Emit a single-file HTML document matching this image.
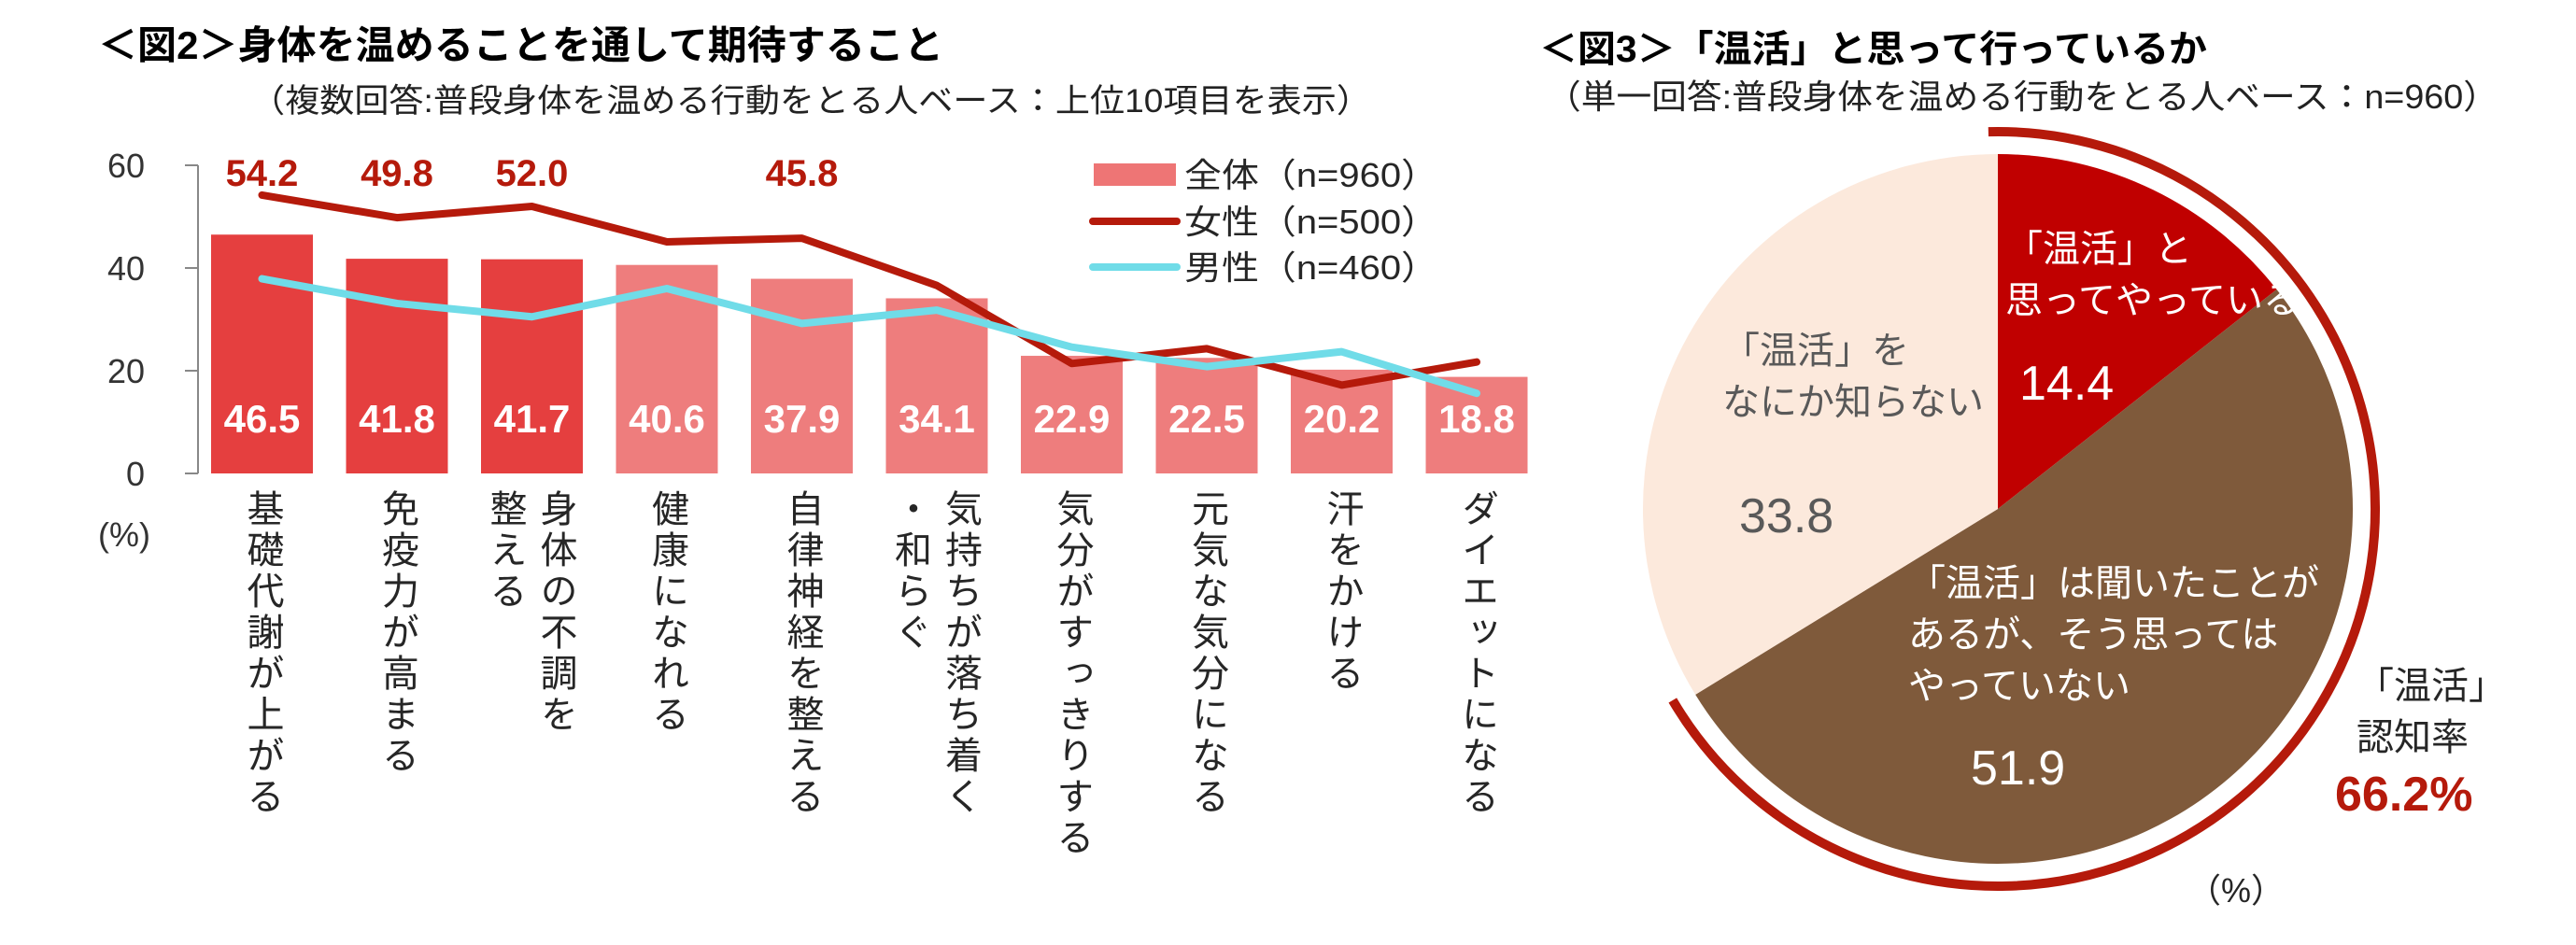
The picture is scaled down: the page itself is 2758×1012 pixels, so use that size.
<!DOCTYPE html>
<html><head><meta charset="utf-8">
<style>
html,body{margin:0;padding:0;background:#fff;}
#root{position:relative;width:2758px;height:1012px;overflow:hidden;font-family:"Liberation Sans","Noto Sans CJK JP",sans-serif;}
svg{position:absolute;left:0;top:0;}
.vlab{position:absolute;writing-mode:vertical-rl;font-size:40px;line-height:54px;letter-spacing:4px;color:#262626;font-family:"Liberation Sans","Noto Sans CJK JP",sans-serif;white-space:pre;}
</style></head>
<body>
<div id="root">
<svg id="svg" width="2758" height="1012" viewBox="0 0 2758 1012">
  <text x="105" y="63" font-size="42" font-weight="bold" fill="#000" textLength="905" lengthAdjust="spacingAndGlyphs">＜図2＞身体を温めることを通して期待すること</text>
  <text x="268" y="120" font-size="35" fill="#222" textLength="1200" lengthAdjust="spacingAndGlyphs">（複数回答:普段身体を温める行動をとる人ベース：上位10項目を表示）</text>
  <text x="1648" y="66" font-size="40" font-weight="bold" fill="#000" textLength="715" lengthAdjust="spacingAndGlyphs">＜図3＞「温活」と思って行っているか</text>
  <text x="1655" y="116" font-size="36" fill="#222" textLength="1020" lengthAdjust="spacingAndGlyphs">（単一回答:普段身体を温める行動をとる人ベース：n=960）</text>
  <g id="bars"></g><g id="lines"></g><g id="axis"></g><g id="pie"></g>
</svg>
</div>
<script>
const categories=["基礎代謝が上がる","免疫力が高まる","身体の不調を\n整える","健康になれる","自律神経を整える","気持ちが落ち着く\n・和らぐ","気分がすっきりする","元気な気分になる","汗をかける","ダイエットになる"];
const totalValues=[46.5,41.8,41.7,40.6,37.9,34.1,22.9,22.5,20.2,18.8];
const femaleValues=[54.2,49.8,52.0,45.1,45.8,36.6,21.4,24.3,17.2,21.7];
const maleValues=[37.9,33.1,30.5,36.0,29.2,31.8,24.6,20.8,23.7,15.6];
const femaleLabelShown=[true,true,true,false,true,false,false,false,false,false];
const yTicks=[0,20,40,60];
const pieLabels=["「温活」と\n思ってやっている","「温活」は聞いたことが\nあるが、そう思っては\nやっていない","「温活」を\nなにか知らない"];
const pieValues=[14.4,51.9,33.8];

const NS="http://www.w3.org/2000/svg";
function mk(tag,attrs,parent){const e=document.createElementNS(NS,tag);for(const k in attrs)e.setAttribute(k,attrs[k]);parent.appendChild(e);return e;}
const y0=507, yTop=177, x0=212, pitch=144.5, bw=109, bx0=226;
function yS(v){return y0-(v/60)*(y0-yTop);}
function xC(i){return bx0+bw/2+i*pitch;}

const gB=document.getElementById('bars'),gL=document.getElementById('lines'),gA=document.getElementById('axis'),gP=document.getElementById('pie');
const root=document.getElementById('root');

totalValues.forEach((v,i)=>{
  const r=mk('rect',{x:xC(i)-bw/2,y:yS(v),width:bw,height:y0-yS(v),fill:i<3?'#E53F3F':'#EE7D7D'},gB);
  
  
  const t=mk('text',{x:xC(i),y:463,'font-size':42,'font-weight':'bold',fill:'#fff','text-anchor':'middle'},gB);
  t.textContent=v.toFixed(1);
  
  
});
function line(vals,color,name){
  const p=mk('polyline',{points:vals.map((v,i)=>xC(i)+','+yS(v)).join(' '),fill:'none',stroke:color,'stroke-width':8,'stroke-linejoin':'round','stroke-linecap':'round'},gL);
  
  
}
line(femaleValues,'#B51A0B','female-line');
line(maleValues,'#70DCE8','male-line');
femaleValues.forEach((v,i)=>{
  if(!femaleLabelShown[i])return;
  const t=mk('text',{x:xC(i),y:199,'font-size':40,'font-weight':'bold',fill:'#B51A0B','text-anchor':'middle'},gL);
  t.textContent=v.toFixed(1);
  
  
});
// axis
const ax=mk('line',{x1:x0,y1:yTop,x2:x0,y2:y0,stroke:'#888','stroke-width':2},gA);


yTicks.forEach(v=>{
  const tk=mk('line',{x1:x0-14,y1:yS(v),x2:x0,y2:yS(v),stroke:'#888','stroke-width':2},gA);
  
  
  const t=mk('text',{x:155,y:yS(v)+13,'font-size':36,fill:'#333','text-anchor':'end'},gA);
  t.textContent=v;
  
  
});
const pc=mk('text',{x:105,y:585,'font-size':36,fill:'#333'},gA);pc.textContent='(%)';


// legend
const lr=mk('rect',{x:1171,y:175,width:88,height:24,fill:'#EE7575'},gA);

const l1=mk('line',{x1:1170,y1:237,x2:1260,y2:237,stroke:'#B51A0B','stroke-width':8,'stroke-linecap':'round'},gA);

const l2=mk('line',{x1:1170,y1:286,x2:1260,y2:286,stroke:'#70DCE8','stroke-width':8,'stroke-linecap':'round'},gA);

[['全体（n=960）',200],['女性（n=500）',250],['男性（n=460）',299]].forEach((d,i)=>{
  const t=mk('text',{x:1268,y:d[1],'font-size':36,fill:'#262626',textLength:272,lengthAdjust:'spacingAndGlyphs'},gA);
  t.textContent=d[0];
  
  
});
// vertical category labels
categories.forEach((c,i)=>{
  const d=document.createElement('div');
  d.className='vlab';
  d.textContent=c;
  
  
  root.appendChild(d);
  const cols=c.split('\n').length;
  const w=cols*54;
  d.style.left=(xC(i)-w/2+(cols>1?-2:0))+'px';
  d.style.top='524px';
});
// pie
const cx=2139,cy=545,R=380;
const pieColors=['#C00000','#7F5A3B','#FCE9DC'];
let acc=0;const tot=pieValues.reduce((a,b)=>a+b,0);
function pt(frac,r){const a=frac*2*Math.PI-Math.PI/2;return [cx+r*Math.cos(a),cy+r*Math.sin(a)];}
pieValues.forEach((v,i)=>{
  const s=acc/tot,e=(acc+v)/tot;acc+=v;
  const p1=pt(s,R),p2=pt(e,R);
  const p=mk('path',{d:`M${cx},${cy} L${p1[0]},${p1[1]} A${R},${R} 0 ${e-s>0.5?1:0} 1 ${p2[0]},${p2[1]} Z`,fill:pieColors[i]},gP);
  
  
});
const awareFrac=(pieValues[0]+pieValues[1])/tot;
{const Ra=404,s=-0.004,e=awareFrac+0.003;const p1=pt(s,Ra),p2=pt(e,Ra);
 const a=mk('path',{d:`M${p1[0]},${p1[1]} A${Ra},${Ra} 0 ${e-s>0.5?1:0} 1 ${p2[0]},${p2[1]}`,fill:'none',stroke:'#B51A0B','stroke-width':10},gP);
 }
function txt(x,y,s,fs,fill,name,extra){const t=mk('text',Object.assign({x:x,y:y,'font-size':fs,fill:fill},extra||{}),gP);t.textContent=s;return t;}
const labPos=[[2147,280,[2162,428],'#fff'],[2043,638,[2110,840],'#fff'],[1844,389,[1862,570],'#595959']];
pieLabels.forEach((l,i)=>{
  l.split('\n').forEach((ln,j)=>txt(labPos[i][0],labPos[i][1]+j*55,ln,40,labPos[i][3],'pie-label-'+(i+1)));
  txt(labPos[i][2][0],labPos[i][2][1],pieValues[i].toFixed(1),52,labPos[i][3],'pie-value-'+(i+1));
});
txt(2523,748,'「温活」',40,'#262626','awareness-label');
txt(2523,803,'認知率',40,'#262626','awareness-label');
txt(2500,868,(awareFrac*100).toFixed(1)+'%',52,'#B51A0B','awareness-value',{'font-weight':'bold'});
txt(2342,966,'（%）',36,'#262626','pie-unit-label');
</script>
</body></html>
